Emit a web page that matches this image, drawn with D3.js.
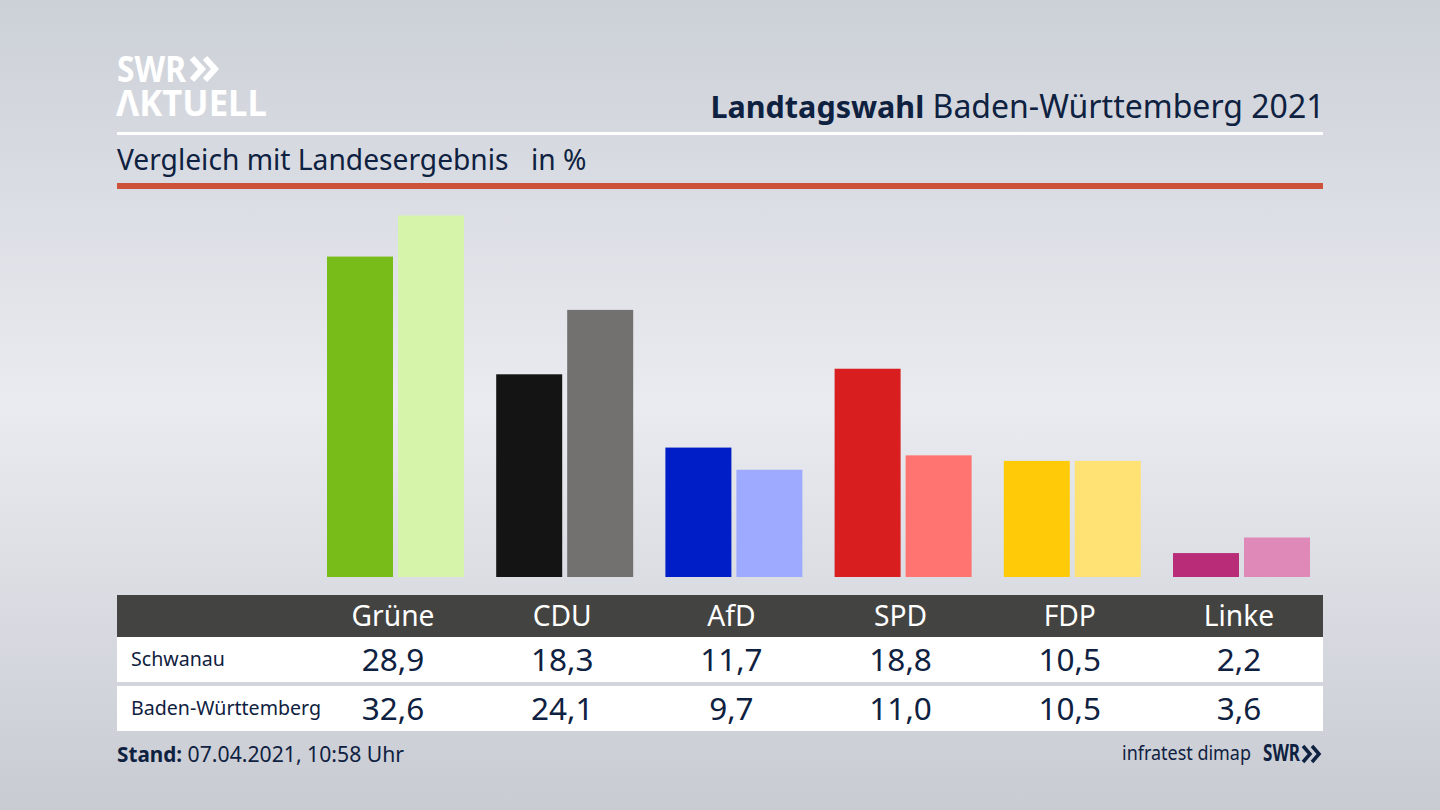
<!DOCTYPE html>
<html>
<head>
<meta charset="utf-8">
<script src="https://cdn.jsdelivr.net/npm/d3@7"></script>
<style>
html, body { margin: 0; padding: 0; background: #ccd0d6; overflow: hidden; }
text { font-family: "Noto Sans", sans-serif; fill: #0f2140; }
</style>
</head>
<body>
<div id="chart"></div>
<script>
// values
const parties = ["Grüne", "CDU", "AfD", "SPD", "FDP", "Linke"];
const schwanau = [28.9, 18.3, 11.7, 18.8, 10.5, 2.2];
const landesergebnis = [32.6, 24.1, 9.7, 11.0, 10.5, 3.6];
const rowNames = ["Schwanau", "Baden-Württemberg"];
const coloursDark = ["#78bc1a", "#141414", "#001ec8", "#d81e1e", "#ffcb08", "#b92d78"];
const coloursLight = ["#d6f5aa", "#72716f", "#9eaaff", "#ff7370", "#ffe174", "#de89b8"];

const w = 1440, h = 810;
const left = 117, right = 1323;
const barW = 66, barGap = 5;

const svg = d3.select("#chart").append("svg")
    .attr("width", w)
    .attr("height", h)
    .style("display", "block");

// background
const grad = svg.append("defs").append("linearGradient")
    .attr("id", "bg").attr("x1", 0).attr("y1", 0).attr("x2", 0).attr("y2", 1);
grad.selectAll("stop")
    .data([[0, "#ccd0d7"], [0.5, "#e9ebf0"], [1, "#c8cbd2"]])
    .enter().append("stop")
    .attr("offset", d => d[0])
    .attr("stop-color", d => d[1]);
svg.append("rect").attr("width", w).attr("height", h).attr("fill", "url(#bg)");

const x = d3.scalePoint().domain(parties).range([393, 1239]);
const y = d3.scaleLinear().domain([0, 32.6]).range([577.5, 215.5]);
const baseY = 577;

// logo top left
svg.append("text").attr("x", 117).attr("y", 82)
    .attr("font-size", 35).attr("font-weight", 700)
    .attr("textLength", 69).attr("lengthAdjust", "spacingAndGlyphs")
    .style("fill", "#fff").text("SWR");
const chevrons = svg.append("g").attr("fill", "none").attr("stroke", "#fff").attr("stroke-width", 6);
[192, 205].forEach(cx => {
    chevrons.append("path").attr("d", d3.line()([[cx, 58], [cx + 10, 69], [cx, 80]]));
});
svg.append("text").attr("x", 116).attr("y", 116)
    .attr("font-size", 35).attr("font-weight", 700)
    .attr("textLength", 151).attr("lengthAdjust", "spacingAndGlyphs")
    .style("fill", "#fff").text("ΛKTUELL");

// header
const title = svg.append("text").attr("x", right + 1.5).attr("y", 118)
    .attr("text-anchor", "end");
title.append("tspan").attr("font-size", 30.5).attr("font-weight", 700).text("Landtagswahl");
title.append("tspan").attr("font-size", 32).text(" Baden-Württemberg 2021");
svg.append("rect").attr("x", left).attr("y", 132).attr("width", right - left).attr("height", 3).attr("fill", "#fff");
svg.append("text").attr("x", left).attr("y", 170).attr("font-size", 28.2).text("Vergleich mit Landesergebnis");
svg.append("text").attr("x", 531).attr("y", 170).attr("font-size", 28.2).text("in %");
svg.append("rect").attr("x", left).attr("y", 183).attr("width", right - left).attr("height", 6).attr("fill", "#cc5239");

// bars
svg.append("g").selectAll("rect")
    .data(parties)
    .enter().append("rect")
    .attr("x", d => x(d) - barW)
    .attr("y", (d, i) => y(schwanau[i]))
    .attr("width", barW)
    .attr("height", (d, i) => baseY - y(schwanau[i]))
    .attr("fill", (d, i) => coloursDark[i]);
svg.append("g").selectAll("rect")
    .data(parties)
    .enter().append("rect")
    .attr("x", d => x(d) + barGap)
    .attr("y", (d, i) => y(landesergebnis[i]))
    .attr("width", barW)
    .attr("height", (d, i) => baseY - y(landesergebnis[i]))
    .attr("fill", (d, i) => coloursLight[i]);

// table
svg.append("rect").attr("x", left).attr("y", 595).attr("width", right - left).attr("height", 42).attr("fill", "#434341");
svg.append("rect").attr("x", left).attr("y", 637).attr("width", right - left).attr("height", 45).attr("fill", "#fff");
svg.append("rect").attr("x", left).attr("y", 686).attr("width", right - left).attr("height", 45).attr("fill", "#fff");

svg.append("g").selectAll("text")
    .data(parties)
    .enter().append("text")
    .attr("x", d => x(d))
    .attr("y", 626)
    .attr("text-anchor", "middle")
    .attr("font-size", 28.2)
    .style("fill", "#fff")
    .text(d => d);

const fmt = v => v.toFixed(1).replace(".", ",");
[schwanau, landesergebnis].forEach((vals, r) => {
    const base = r == 0 ? 671 : 720;
    svg.append("text").attr("x", 131).attr("y", base - 5)
        .attr("font-size", 19.6).text(rowNames[r]);
    svg.append("g").selectAll("text")
        .data(vals)
        .enter().append("text")
        .attr("x", (d, i) => x(parties[i]))
        .attr("y", base)
        .attr("text-anchor", "middle")
        .attr("font-size", 31.5)
        .text(d => fmt(d));
});

// footer
const stand = svg.append("text").attr("x", left).attr("y", 762);
stand.append("tspan").attr("font-size", 20.7).attr("font-weight", 700).text("Stand:");
stand.append("tspan").attr("font-size", 21.2).text(" 07.04.2021, 10:58 Uhr");
svg.append("text").attr("x", 1251).attr("y", 760).attr("text-anchor", "end").attr("font-size", 20)
    .attr("textLength", 129).attr("lengthAdjust", "spacingAndGlyphs").text("infratest dimap");
svg.append("text").attr("x", 1263).attr("y", 761).attr("font-size", 23).attr("font-weight", 700)
    .attr("textLength", 37).attr("lengthAdjust", "spacingAndGlyphs").text("SWR");
const chevrons2 = svg.append("g").attr("fill", "none").attr("stroke", "#0f2140").attr("stroke-width", 3.5);
[1303, 1312].forEach(cx => {
    chevrons2.append("path").attr("d", d3.line()([[cx, 746], [cx + 7, 754], [cx, 762]]));
});
</script>
</body>
</html>
